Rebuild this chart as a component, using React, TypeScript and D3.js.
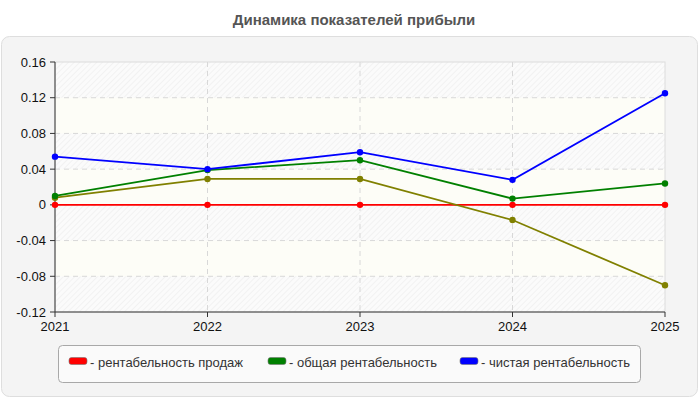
import React from "react";
import * as d3 from "d3";

const years = ["2021", "2022", "2023", "2024", "2025"];
const salesMargin = [0, 0, 0, 0, 0];
const totalMargin = [0.01, 0.039, 0.05, 0.007, 0.024];
const netMargin = [0.054, 0.04, 0.059, 0.028, 0.125];
const otherSeries = [0.008, 0.029, 0.029, -0.017, -0.09];
const yTicks = [0.16, 0.12, 0.08, 0.04, 0, -0.04, -0.08, -0.12];

const legendItems = [
  { label: "- рентабельность продаж", color: "#ff0000" },
  { label: "- общая рентабельность", color: "#008000" },
  { label: "- чистая рентабельность", color: "#0000ff" },
];

const series = [
  { values: salesMargin, color: "#ff0000" },
  { values: otherSeries, color: "#808000" },
  { values: totalMargin, color: "#008000" },
  { values: netMargin, color: "#0000ff" },
];

const W = 700;
const H = 400;
const plot = { left: 55, right: 665, top: 62, bottom: 312 };
const font = "Arial, 'Liberation Sans', sans-serif";

export default function App() {
  const x = d3.scalePoint<string>().domain(years).range([plot.left, plot.right]);
  const y = d3.scaleLinear().domain([-0.12, 0.16]).range([plot.bottom, plot.top]);

  const line = d3
    .line<number>()
    .x((_, i) => x(years[i]) as number)
    .y((d) => y(d));

  // alternate hatched / plain bands between grid lines
  const bands = yTicks.slice(0, -1).map((t, i) => ({ top: t, bottom: yTicks[i + 1], hatched: i % 2 === 0 }));

  const fmt = (v: number) => (v === 0 ? "0" : String(+v.toFixed(2)));

  return (
    <svg width={W} height={H} style={{ position: "absolute", left: 0, top: 0 }} fontFamily={font}>
      <defs>
        <pattern id="hatch" width="4" height="4" patternUnits="userSpaceOnUse" patternTransform="rotate(45)">
          <rect width="4" height="4" fill="#fbfbfb" />
          <line x1="0" y1="0" x2="0" y2="4" stroke="#ececec" strokeWidth="1.2" />
        </pattern>
      </defs>
      <rect width={W} height={H} fill="#ffffff" />
      <text x={354} y={25} textAnchor="middle" fontSize={15} fontWeight="bold" fill="#555">
        Динамика показателей прибыли
      </text>
      <rect x={1.5} y={36.5} width={696} height={360} rx={8} fill="#f4f4f4" stroke="#dedede" />

      {/* plot background */}
      <rect x={plot.left} y={plot.top} width={plot.right - plot.left} height={plot.bottom - plot.top} fill="#fdfdf7" />
      {bands.map((b, i) =>
        b.hatched ? (
          <rect key={i} x={plot.left} y={y(b.top)} width={plot.right - plot.left} height={y(b.bottom) - y(b.top)} fill="url(#hatch)" />
        ) : null
      )}
      <rect x={plot.left} y={plot.top} width={plot.right - plot.left} height={plot.bottom - plot.top} fill="none" stroke="#dcdcdc" />

      {/* grid */}
      {yTicks.slice(1, -1).map((t) => (
        <line key={t} x1={plot.left} x2={plot.right} y1={y(t)} y2={y(t)} stroke="#d8d8d8" strokeDasharray="5,4" />
      ))}
      {years.slice(1, -1).map((yr) => (
        <line key={yr} x1={x(yr)} x2={x(yr)} y1={plot.top} y2={plot.bottom} stroke="#d8d8d8" strokeDasharray="5,4" />
      ))}

      {/* axes */}
      <line x1={plot.left} x2={plot.left} y1={plot.top} y2={plot.bottom} stroke="#333" />
      <line x1={plot.left} x2={plot.right} y1={plot.bottom} y2={plot.bottom} stroke="#333" />
      {yTicks.map((t) => (
        <g key={t}>
          <line x1={plot.left - 5} x2={plot.left} y1={y(t)} y2={y(t)} stroke="#333" />
          <text x={plot.left - 9} y={y(t) + 4.5} textAnchor="end" fontSize={13} fill="#111">
            {fmt(t)}
          </text>
        </g>
      ))}
      {years.map((yr) => (
        <g key={yr}>
          <line x1={x(yr)} x2={x(yr)} y1={plot.bottom} y2={plot.bottom + 5} stroke="#333" />
          <text x={x(yr)} y={plot.bottom + 19} textAnchor="middle" fontSize={13} fill="#111">
            {yr}
          </text>
        </g>
      ))}

      {/* series */}
      {series.map((s, si) => (
        <g key={si}>
          <path d={line(s.values) || ""} fill="none" stroke={s.color} strokeWidth={1.8} />
          {s.values.map((v, i) => (
            <circle key={i} cx={x(years[i])} cy={y(v)} r={3.2} fill={s.color} />
          ))}
        </g>
      ))}

      {/* legend */}
      <rect x={58.5} y={345.5} width={582} height={37} rx={4} fill="#fafafa" stroke="#a8a8a8" />
      {legendItems.map((item, i) => {
        const lx = [69, 268, 460][i];
        return (
          <g key={item.label}>
            <rect x={lx} y={357.5} width={18} height={7} rx={2.5} fill={item.color} stroke="#777" strokeWidth={0.6} />
            <text x={lx + 21} y={366.5} fontSize={13} fill="#333">
              {item.label}
            </text>
          </g>
        );
      })}
    </svg>
  );
}
